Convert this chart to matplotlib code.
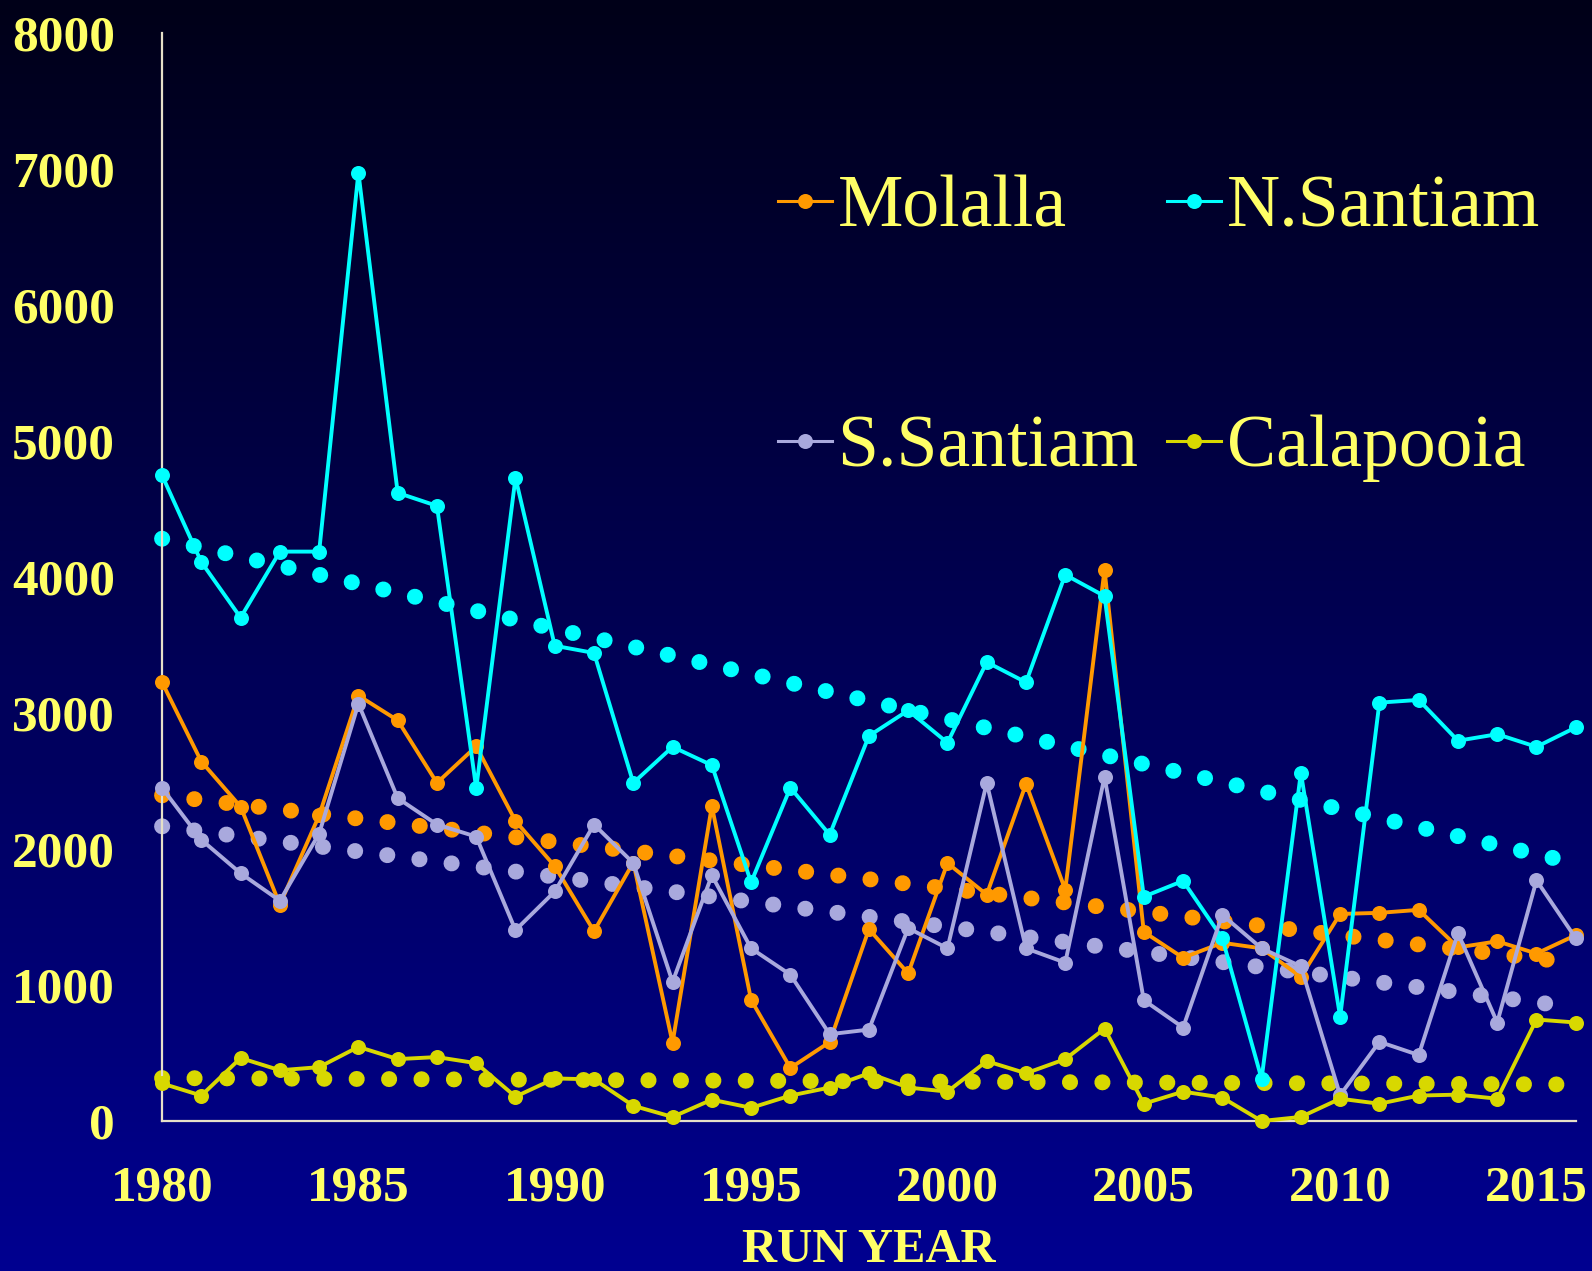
import numpy as np
import matplotlib.pyplot as plt

years = np.arange(1980, 2017)

molalla = [3224, 2642, 2310, 1590, 2246, 3127, 2945, 2485, 2754, 2205,
           1873, 1395, 1900, 575, 2315, 890, 390, 580, 1410, 1085,
           1896, 1664, 2478, 1700, 4052, 1390, 1200, 1310, 1269, 1060,
           1522, 1530, 1552, 1276, 1321, 1231, 1366]
n_santiam = [4746, 4108, 3700, 4185, 4185, 6970, 4617, 4521, 2444, 4728,
             3493, 3440, 2485, 2750, 2615, 1754, 2450, 2104, 2830, 3018,
             2780, 3373, 3224, 4015, 3858, 1649, 1765, 1343, 310, 2560,
             765, 3075, 3095, 2795, 2843, 2750, 2893]
s_santiam = [2448, 2067, 1821, 1619, 2112, 3067, 2373, 2179, 2090, 1403,
             1687, 2179, 1896, 1022, 1806, 1269, 1075, 638, 672, 1418,
             1269, 2485, 1269, 1164, 2530, 888, 687, 1515, 1269, 1137,
             190, 582, 485, 1381, 724, 1769, 1343]
calapooia = [276, 187, 463, 373, 396, 545, 455, 470, 425, 179,
             313, 306, 112, 30, 157, 97, 187, 246, 351, 246,
             216, 440, 351, 455, 679, 127, 216, 172, 0, 30,
             164, 127, 187, 194, 164, 746, 724]

names = ["Molalla", "N.Santiam", "S.Santiam", "Calapooia"]
colors = ["#FF9900", "#00FFFF", "#A9A9DD", "#D8D800"]
y_ticks = [0, 1000, 2000, 3000, 4000, 5000, 6000, 7000, 8000]
x_ticks = [1980, 1985, 1990, 1995, 2000, 2005, 2010, 2015]

txt = "#FFFF66"
plt.rcParams['font.family'] = ['Liberation Serif', 'DejaVu Serif']

fig = plt.figure(figsize=(15.92, 12.71), dpi=100)

# background gradient, dark at the top to navy at the bottom
bg = fig.add_axes([0, 0, 1, 1], zorder=-10)
grad = np.linspace(0, 1, 256).reshape(-1, 1)
img = np.zeros((256, 1, 3))
img[:, 0, 2] = (0x18 + (0x90 - 0x18) * grad[:, 0]) / 255.0
bg.imshow(img, aspect='auto', extent=[0, 1, 0, 1], origin='upper')
bg.axis('off')

ax = fig.add_axes([0.1018, 0.118, 0.888, 0.8564])
ax.patch.set_alpha(0)

all_series = [molalla, n_santiam, s_santiam, calapooia]

# linear trend lines drawn as big round dots
tx = np.array([1980, 2016])
for vals, c in zip(all_series, colors):
    k, b = np.polyfit(years, vals, 1)
    ax.plot(tx, k * tx + b, color=c, lw=11.5, linestyle=(0, (0.01, 2.02)),
            dash_capstyle='round', solid_capstyle='round', clip_on=False, zorder=2)

handles = []
for vals, c, n in zip(all_series, colors, names):
    h, = ax.plot(years, vals, color=c, lw=2.8, marker='o', markersize=10.8,
                 markeredgewidth=0, label=n, clip_on=False, zorder=3)
    handles.append(h)

ax.set_xlim(1980, 2016)
ax.set_ylim(0, 8000)
ax.set_yticks(y_ticks)
ax.set_xticks(x_ticks)
ax.tick_params(length=0, pad=32, labelcolor=txt, labelsize=37)
ax.tick_params(axis='y', pad=34)
for lab in ax.get_xticklabels() + ax.get_yticklabels():
    lab.set_fontweight('bold')

for s in ['top', 'right']:
    ax.spines[s].set_visible(False)
for s in ['left', 'bottom']:
    ax.spines[s].set_color('#E6E0C8')
    ax.spines[s].set_linewidth(1.6)

ax.set_xlabel("RUN YEAR", color=txt, fontsize=35, fontweight='bold', labelpad=12)

order = [0, 2, 1, 3]
leg = ax.legend([handles[i] for i in order], [names[i] for i in order],
                ncol=2, frameon=False, fontsize=53, loc='upper left',
                bbox_to_anchor=(778 / 1592, 1 - 175 / 1271),
                bbox_transform=fig.transFigure, borderpad=0, borderaxespad=0,
                handlelength=0.73, handletextpad=0.08, columnspacing=0.39,
                labelspacing=2.34)
for t in leg.get_texts():
    t.set_color(txt)
for lh in leg.get_lines():
    lh.set_linewidth(2.2)

fig.savefig("out.png", dpi=100)
